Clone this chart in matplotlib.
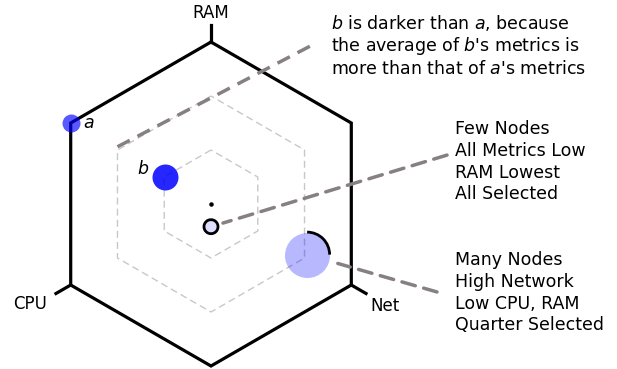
import matplotlib
matplotlib.use("Agg")
import matplotlib.pyplot as plt
from matplotlib.patches import Arc
import numpy as np

# axis directions (degrees) for the three metrics
axis_names = ["RAM", "CPU", "Net"]
axis_angles = [90, 210, 330]

# nodes groups: metrics in [0, 1]
labels = ["a", "b", "", ""]
cpu = [1.0, 1.0, 0.30, 0.15]
ram = [1.0, 1.0, 0.16, 0.18]
net = [0.0, 0.67, 0.30, 0.835]
radius_px = [9, 13, 7, 22.5]
shade = [0.65, 0.85, 0.13, 0.28]
selected = [0.0, 0.0, 1.0, 0.25]

note_ab = "$b$ is darker than $a$, because\nthe average of $b$'s metrics is\nmore than that of $a$'s metrics"
note_few = "Few Nodes\nAll Metrics Low\nRAM Lowest\nAll Selected"
note_many = "Many Nodes\nHigh Network\nLow CPU, RAM\nQuarter Selected"

PX = 162.0  # pixels per unit radius
DASH = "#878080"

def unit(deg):
    r = np.deg2rad(deg)
    return np.array([np.cos(r), np.sin(r)])

def project(c, r, n):
    return r * unit(90) + c * unit(210) + n * unit(330)

fig = plt.figure(figsize=(6.17, 3.69), dpi=100)
ax = fig.add_axes([0, 0, 1, 1])
ax.set_xlim(-211 / PX, (617 - 211) / PX)
ax.set_ylim(-(369 - 204) / PX, 204 / PX)
ax.axis("off")

hex_angles = np.arange(90, 90 + 361, 60)
hx = np.cos(np.deg2rad(hex_angles))
hy = np.sin(np.deg2rad(hex_angles))
ax.plot(hx, hy, color="black", lw=2.3, solid_joinstyle="miter", zorder=2)
for k in [1 / 3, 2 / 3]:
    ax.plot(k * hx, k * hy, color="#c8c8c8", lw=1, linestyle=(0, (5, 3)), zorder=1)

# ticks and labels on the axes
label_off = {"RAM": (0, 0.18), "CPU": (-0.25, -0.12), "Net": (0.21, -0.13)}
for name, ang in zip(axis_names, axis_angles):
    u = unit(ang)
    ax.plot([u[0], 1.105 * u[0]], [u[1], 1.105 * u[1]], color="black", lw=2.3, zorder=2)
    ox, oy = label_off[name]
    ax.text(u[0] + ox, u[1] + oy, name, fontsize=12, ha="center", va="center")

ax.scatter([0], [0], s=5, color="black", zorder=3)

pos = [project(c, r, n) for c, r, n in zip(cpu, ram, net)]
for p, rp, al, sel in zip(pos, radius_px, shade, selected):
    d = 2 * rp * 0.72
    ax.scatter([p[0]], [p[1]], s=d * d, color="blue", alpha=al, linewidths=0, zorder=4)
    if sel > 0:
        rr = 2 * rp / PX
        ax.add_patch(Arc(p, rr, rr, theta1=90 - 360 * sel, theta2=90,
                         color="black", lw=2, zorder=5))

ax.annotate(labels[0], pos[0], xytext=(13, 0), textcoords="offset points",
            fontsize=12.5, style="italic", ha="center", va="center")
ax.annotate(labels[1], pos[1], xytext=(-16, 6), textcoords="offset points",
            fontsize=12.5, style="italic", ha="center", va="center")

# annotation leaders
dash = (0, (4, 2.5))
mid_vertex = (2 / 3) * unit(150)
ax.plot([mid_vertex[0], 0.632], [mid_vertex[1] + 0.02, 0.985], color=DASH, lw=2.5,
        linestyle=dash, zorder=3)
ax.annotate("", pos[2], xytext=(1.457, 0.302),
            arrowprops=dict(arrowstyle="-", color=DASH, lw=2.5, linestyle=dash,
                            shrinkA=0, shrinkB=9))
ax.annotate("", pos[3], xytext=(1.395, -0.543),
            arrowprops=dict(arrowstyle="-", color=DASH, lw=2.5, linestyle=dash,
                            shrinkA=0, shrinkB=23))

ax.text(0.741, 1.182, note_ab, fontsize=12.5, ha="left", va="top", linespacing=1.18)
ax.text(1.506, 0.517, note_few, fontsize=12.5, ha="left", va="top", linespacing=1.26)
ax.text(1.506, -0.292, note_many, fontsize=12.5, ha="left", va="top", linespacing=1.26)

fig.savefig("out.png", dpi=100)
